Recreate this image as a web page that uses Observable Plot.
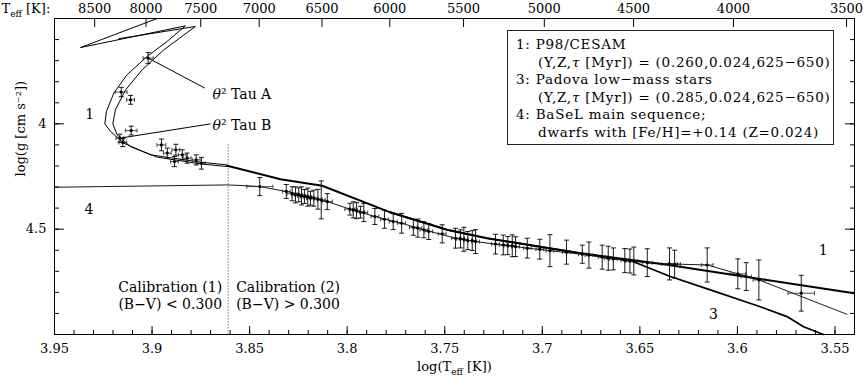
<!DOCTYPE html>
<html><head><meta charset="utf-8">
<script src="https://cdn.jsdelivr.net/npm/d3@7"></script>
<script src="https://cdn.jsdelivr.net/npm/@observablehq/plot@0.6"></script>
<style>
body{margin:0;background:#fff;}
#wrap{position:relative;width:864px;height:376px;font-family:"DejaVu Serif",serif;color:#000;}
#legend{position:absolute;left:507px;top:30px;width:327px;height:115px;box-sizing:border-box;border:1px solid #222;background:#fff;padding:5px 0 0 8px;font-size:13.5px;letter-spacing:0.75px;line-height:17.5px;white-space:nowrap;}
#legend .c{padding-left:22px;}
</style></head>
<body><div id="wrap"></div>
<script>
// ---- data (log Teff, log g) ----
const track1Ms = [[3.5402,4.804],[3.5883,4.737],[3.6361,4.669],[3.6806,4.614],[3.7283,4.543],[3.7488,4.503],[3.771,4.440],[3.7779,4.420],[3.8128,4.294],[3.8342,4.263],[3.8615,4.199]];
const track1Outer = [[3.8615,4.195],[3.8752,4.182],[3.9008,4.147],[3.9145,4.092],[3.9213,4.036],[3.9242,4.000],[3.9234,3.942],[3.9196,3.854],[3.9128,3.767],[3.9025,3.680],[3.8923,3.609],[3.8829,3.535],[3.9367,3.638],[3.8974,3.5]];
const track1Inner = [[3.8615,4.203],[3.8752,4.190],[3.8974,4.158],[3.9111,4.108],[3.9179,4.052],[3.9201,4.000],[3.9188,3.934],[3.9136,3.839],[3.9051,3.744],[3.894,3.649],[3.8778,3.538],[3.9171,3.596]];
const padova3 = [[3.7779,4.420],[3.7488,4.503],[3.7283,4.543],[3.6806,4.614],[3.6549,4.649],[3.6344,4.725],[3.6139,4.788],[3.5883,4.868],[3.5746,4.915],[3.5661,4.963],[3.5559,5.0]];
const basel4 = [[3.95,4.301],[3.926,4.298],[3.8615,4.290],[3.851,4.294],[3.8448,4.298],[3.8312,4.321],[3.8188,4.345],[3.8102,4.369],[3.7986,4.405],[3.7858,4.440],[3.7721,4.472],[3.7607,4.503],[3.7445,4.543],[3.7342,4.559],[3.724,4.571],[3.7077,4.590],[3.6961,4.602],[3.6795,4.619],[3.6636,4.641],[3.6462,4.659],[3.6348,4.665],[3.6155,4.670],[3.5998,4.712],[3.589,4.741],[3.5439,4.904]];
// stars: [logTeff, logg, err logTeff, err logg]
const stars = [
[3.902,3.688,0.0026,0.026],[3.9158,3.849,0.003,0.022],[3.911,3.886,0.002,0.021],[3.9107,4.032,0.003,0.021],
[3.9165,4.068,0.002,0.019],[3.915,4.089,0.002,0.019],[3.8952,4.100,0.0023,0.028],[3.8922,4.139,0.002,0.024],
[3.8878,4.123,0.002,0.026],[3.8885,4.179,0.002,0.024],[3.8845,4.147,0.002,0.024],[3.882,4.163,0.002,0.024],
[3.8774,4.171,0.002,0.024],[3.8747,4.187,0.002,0.028],[3.8448,4.298,0.0067,0.043],[3.8312,4.321,0.002,0.033],
[3.8282,4.332,0.0026,0.033],[3.8265,4.337,0.002,0.038],[3.8248,4.337,0.002,0.033],[3.8234,4.342,0.002,0.043],
[3.8219,4.345,0.002,0.033],[3.8202,4.348,0.002,0.043],[3.8188,4.353,0.002,0.033],[3.8171,4.353,0.002,0.038],
[3.815,4.358,0.002,0.047],[3.8133,4.361,0.002,0.090],[3.8102,4.369,0.0026,0.038],[3.7986,4.405,0.0026,0.028],
[3.7969,4.408,0.002,0.038],[3.7952,4.412,0.002,0.038],[3.7932,4.419,0.002,0.028],[3.7915,4.421,0.002,0.043],
[3.7858,4.440,0.002,0.038],[3.7809,4.453,0.002,0.043],[3.7764,4.464,0.002,0.038],[3.7721,4.472,0.002,0.047],
[3.7661,4.491,0.002,0.038],[3.7638,4.495,0.002,0.043],[3.7607,4.503,0.002,0.038],[3.7582,4.511,0.002,0.038],
[3.7513,4.522,0.002,0.043],[3.7445,4.543,0.002,0.047],[3.7419,4.546,0.002,0.043],[3.7402,4.548,0.002,0.057],
[3.7382,4.554,0.002,0.043],[3.7359,4.554,0.002,0.047],[3.7342,4.559,0.002,0.057],[3.724,4.571,0.002,0.047],
[3.720,4.575,0.002,0.047],[3.7177,4.578,0.002,0.043],[3.7154,4.579,0.002,0.052],[3.7137,4.583,0.002,0.047],
[3.7077,4.590,0.002,0.047],[3.7013,4.595,0.002,0.047],[3.6961,4.602,0.002,0.076],[3.6876,4.609,0.002,0.057],
[3.6795,4.619,0.002,0.043],[3.6761,4.623,0.002,0.062],[3.6693,4.633,0.002,0.057],[3.6662,4.638,0.002,0.057],
[3.6636,4.641,0.002,0.052],[3.6577,4.649,0.002,0.057],[3.6551,4.651,0.002,0.057],[3.6531,4.651,0.002,0.066],
[3.6462,4.659,0.0026,0.066],[3.6348,4.665,0.004,0.076],[3.6322,4.666,0.003,0.066],[3.6155,4.670,0.003,0.081],
[3.5998,4.712,0.004,0.071],[3.5955,4.725,0.0026,0.066],[3.589,4.741,0.003,0.095],[3.5673,4.804,0.0068,0.085]
];
// tick values / labels
const xMajorTicks = [3.95,3.9,3.85,3.8,3.75,3.7,3.65,3.6,3.55];
const teffTicks = [8500,8000,7500,7000,6500,6000,5500,5000,4500,4000,3500];
const yMajorTicks = [4, 4.5];
const calibLogT = 3.861; // (B-V) = 0.300 boundary
const calibLogGTop = 4.10;
const curveLabels = [{x:3.932,y:3.957,t:"1"},{x:3.9324,y:4.408,t:"4"},{x:3.5561,y:4.603,t:"1"},{x:3.6123,y:4.907,t:"3"}];
const starLabels = [
  {t:"~{θ}² Tau A", sx:3.902, sy:3.688, lx:3.873, ly:3.830, tx:3.869, ty:3.859},
  {t:"~{θ}² Tau B", sx:3.9165, sy:4.068, lx:3.870, ly:4.000, tx:3.869, ty:4.0095}
];
const calibLeft = ["Calibration (1)\n(B−V) < 0.300"];
const calibRight = ["Calibration (2)\n(B−V) > 0.300"];
const calibLabelLogG = 4.812;
const legendLines = [
  ["1: P98/CESAM", false],
  ["(Y,Z,<i>τ</i> [Myr]) = (0.260,0.024,625−650)", true],
  ["3: Padova low−mass stars", false],
  ["(Y,Z,<i>τ</i> [Myr]) = (0.285,0.024,625−650)", true],
  ["4: BaSeL main sequence;", false],
  ["dwarfs with [Fe/H]=+0.14 (Z=0.024)", true]
];

const xMinor = d3.range(354, 396).map(d => d / 100);
const yMinor = d3.range(36, 50).map(d => d / 10);
const teffLog = teffTicks.map(t => Math.log10(t));

const X = d => d[0], Y = d => d[1];
// error-bar cap symbols (horizontal and vertical short strokes)
const hCap = {draw(ctx, size) { const w = Math.sqrt(size / Math.PI); ctx.moveTo(-w, 0); ctx.lineTo(w, 0); }};
const vCap = {draw(ctx, size) { const w = Math.sqrt(size / Math.PI); ctx.moveTo(0, -w); ctx.lineTo(0, w); }};

const plot = Plot.plot({
  width: 864, height: 376,
  marginLeft: 54, marginRight: 10, marginTop: 18, marginBottom: 42,
  style: {fontFamily: '"DejaVu Serif", serif', fontSize: "13px", color: "black", background: "white", overflow: "visible"},
  x: {domain: [3.95, 3.54]},
  y: {domain: [3.5, 5.0], reverse: true},
  marks: [
    // axes ticks (inward)
    Plot.axisX(xMinor, {anchor: "bottom", tickSize: -4, fill: "none", label: null}),
    Plot.axisX(xMajorTicks, {anchor: "bottom", tickSize: -8, fill: "none", label: null}),
    Plot.axisX(xMajorTicks, {anchor: "bottom", tickSize: 0, tickPadding: 9, label: null, tickFormat: d => String(+d.toFixed(2))}),
    Plot.axisX(teffLog, {anchor: "top", tickSize: -8, fill: "none", label: null}),
    Plot.axisX(teffLog, {anchor: "top", tickSize: 0, tickPadding: 6, label: null, tickFormat: d => String(Math.round(10 ** d))}),
    Plot.axisY(yMinor, {anchor: "left", tickSize: -5, fill: "none", label: null}),
    Plot.axisY(yMajorTicks, {anchor: "left", tickSize: -10, fill: "none", label: null}),
    Plot.axisY(yMajorTicks, {anchor: "left", tickSize: 0, tickPadding: 8, label: null, tickFormat: d => String(d)}),
    Plot.axisY(yMinor, {anchor: "right", tickSize: -5, fill: "none", label: null}),
    Plot.axisY(yMajorTicks, {anchor: "right", tickSize: -10, fill: "none", label: null}),
    Plot.frame({stroke: "black"}),
    // calibration boundary
    Plot.ruleX([calibLogT], {y1: calibLogGTop, y2: 5.0, stroke: "#333", strokeDasharray: "1,2", strokeWidth: 1}),
    // model curves
    Plot.line(basel4, {x: X, y: Y, stroke: "black", strokeWidth: 0.9}),
    Plot.line(track1Outer, {x: X, y: Y, stroke: "black", strokeWidth: 1, clip: true}),
    Plot.line(track1Inner, {x: X, y: Y, stroke: "black", strokeWidth: 1}),
    Plot.line(track1Ms, {x: X, y: Y, stroke: "black", strokeWidth: 2}),
    Plot.line(padova3, {x: X, y: Y, stroke: "black", strokeWidth: 1.7}),
    // error bars
    Plot.link(stars, {x1: d => d[0] - d[2], x2: d => d[0] + d[2], y1: Y, y2: Y, stroke: "#222", strokeWidth: 0.8}),
    Plot.link(stars, {x1: X, x2: X, y1: d => d[1] - d[3], y2: d => d[1] + d[3], stroke: "black", strokeWidth: 0.9}),
    Plot.dot(stars, {x: X, y: d => d[1] - d[3], r: 2.5, symbol: hCap, fill: "none", stroke: "black", strokeWidth: 0.9}),
    Plot.dot(stars, {x: X, y: d => d[1] + d[3], r: 2.5, symbol: hCap, fill: "none", stroke: "black", strokeWidth: 0.9}),
    Plot.dot(stars, {x: d => d[0] - d[2], y: Y, r: 2, symbol: vCap, fill: "none", stroke: "#222", strokeWidth: 0.8}),
    Plot.dot(stars, {x: d => d[0] + d[2], y: Y, r: 2, symbol: vCap, fill: "none", stroke: "#222", strokeWidth: 0.8}),
    Plot.dot(stars, {x: X, y: Y, r: 1.6, fill: "black", stroke: "none"}),
    // star annotations
    Plot.link(starLabels, {x1: "sx", y1: "sy", x2: "lx", y2: "ly", stroke: "black", strokeWidth: 1}),
    Plot.text(starLabels, {x: "tx", y: "ty", text: "t", textAnchor: "start", fontSize: 14}),
    Plot.text(curveLabels, {x: "x", y: "y", text: "t", fontSize: 14}),
    Plot.text(calibLeft, {x: () => calibLogT, y: () => calibLabelLogG, textAnchor: "end", dx: -6, fontSize: 14, lineHeight: 1.2}),
    Plot.text(calibRight, {x: () => calibLogT, y: () => calibLabelLogG, textAnchor: "start", dx: 8, fontSize: 14, lineHeight: 1.2}),
    // axis titles
    Plot.text(["T_{eff} [K]:"], {frameAnchor: "top-left", dx: -53, dy: -6, textAnchor: "start", lineAnchor: "bottom", fontSize: 13}),
    Plot.text(["log(T_{eff} [K])"], {frameAnchor: "bottom", dy: 36, lineAnchor: "bottom", fontSize: 13}),
    Plot.text(["log(g [cm s⁻²])"], {frameAnchor: "left", dx: -34, rotate: -90, fontSize: 13})
  ]
});

// rich text: _{sub}, ~{italic}
function richText(svg) {
  svg.querySelectorAll("text").forEach(t => {
    const s = t.textContent;
    if (!/[_~]\{/.test(s) || t.querySelector("tspan")) return;
    t.textContent = "";
    const re = /([_~])\{([^}]*)\}|([^_~]+)/g;
    let m, shift = 0;
    while ((m = re.exec(s))) {
      const ts = document.createElementNS("http://www.w3.org/2000/svg", "tspan");
      if (m[1] === "_") {
        ts.textContent = m[2]; ts.setAttribute("font-size", "9"); ts.setAttribute("dy", "4"); shift = 4;
      } else {
        ts.textContent = m[1] ? m[2] : m[3];
        if (m[1] === "~") ts.setAttribute("font-style", "italic");
        if (shift) { ts.setAttribute("dy", String(-shift)); shift = 0; }
      }
      t.appendChild(ts);
    }
  });
}
richText(plot);

const wrap = document.getElementById("wrap");
wrap.appendChild(plot);
const leg = document.createElement("div");
leg.id = "legend";
leg.innerHTML = legendLines.map(([s, c]) => `<div class="${c ? "c" : ""}">${s}</div>`).join("");
wrap.appendChild(leg);
</script>
</body></html>
